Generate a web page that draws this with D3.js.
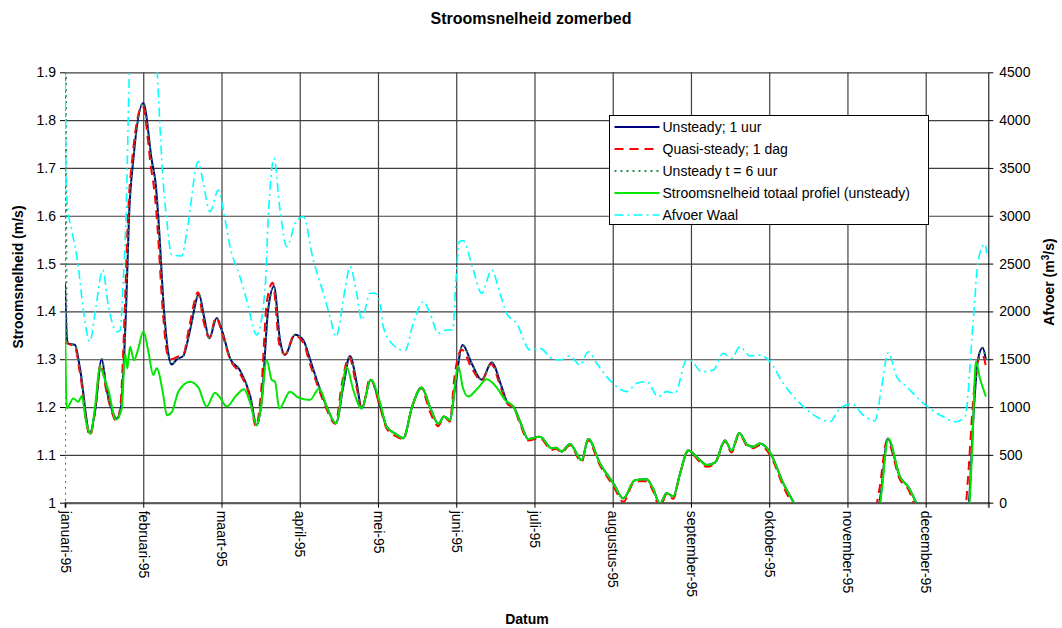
<!DOCTYPE html>
<html>
<head>
<meta charset="utf-8">
<script src="https://cdn.jsdelivr.net/npm/d3@7"></script>
<style>
  body { margin: 0; background: #fff; }
  svg { font-family: "Liberation Sans", Arial, sans-serif; }
</style>
</head>
<body>
<div id="chart"></div>
<script>
// maanden op de x-as (gelijk verdeeld, index = maand)
var maanden = ["januari-95", "februari-95", "maart-95", "april-95", "mei-95", "juni-95",
               "juli-95", "augustus-95", "september-95", "oktober-95", "november-95", "december-95"];
var yTicks = [1, 1.1, 1.2, 1.3, 1.4, 1.5, 1.6, 1.7, 1.8, 1.9];
var afvoerTicks = [0, 500, 1000, 1500, 2000, 2500, 3000, 3500, 4000, 4500];

var legendLabels = ["Unsteady; 1 uur", "Quasi-steady; 1 dag", "Unsteady t = 6 uur",
                    "Stroomsnelheid totaal profiel (unsteady)", "Afvoer Waal"];

// [maand, stroomsnelheid m/s]
var unsteady1uur = [[0,1.46],[0.022,1.35],[0.038,1.333],[0.128,1.33],[0.192,1.28],[0.319,1.145],[0.383,1.19],[0.469,1.30],
  [0.533,1.236],[0.588,1.20],[0.661,1.176],[0.716,1.20],[0.754,1.30],[0.780,1.403],[0.818,1.598],[0.873,1.717],[1.000,1.836],
  [1.108,1.717],[1.163,1.66],[1.192,1.598],[1.265,1.403],[1.320,1.312],[1.364,1.289],[1.431,1.30],[1.512,1.307],[1.597,1.36],
  [1.712,1.436],[1.776,1.39],[1.844,1.344],[1.939,1.386],[2.006,1.36],[2.109,1.302],[2.236,1.277],[2.364,1.225],[2.450,1.162],
  [2.518,1.22],[2.594,1.40],[2.671,1.452],[2.748,1.34],[2.812,1.309],[2.939,1.351],[3.045,1.34],[3.131,1.30],[3.217,1.257],
  [3.344,1.201],[3.463,1.166],[3.553,1.24],[3.642,1.307],[3.728,1.25],[3.792,1.197],[3.907,1.257],[4.026,1.204],[4.111,1.159],
  [4.217,1.145],[4.323,1.135],[4.435,1.20],[4.558,1.241],[4.665,1.20],[4.771,1.165],[4.843,1.18],[4.920,1.173],[4.984,1.24],
  [5.082,1.33],[5.201,1.29],[5.325,1.257],[5.453,1.293],[5.581,1.242],[5.665,1.206],[5.729,1.201],[5.815,1.17],[5.921,1.133],
  [6.070,1.138],[6.220,1.114],[6.275,1.115],[6.348,1.107],[6.454,1.123],[6.603,1.089],[6.688,1.133],[6.837,1.082],[7.007,1.041],
  [7.135,1.009],[7.284,1.047],[7.434,1.049],[7.514,1.03],[7.604,0.998],[7.690,1.02],[7.774,1.013],[7.859,1.06],[7.965,1.109],
  [8.115,1.089],[8.200,1.079],[8.307,1.084],[8.435,1.13],[8.520,1.109],[8.617,1.146],[8.719,1.121],[8.796,1.117],[8.882,1.124],
  [9.010,1.105],[9.179,1.041],[9.329,0.995],[9.457,0.95],[9.776,0.92],[10.160,0.92],[10.364,0.96],[10.428,1.02],[10.514,1.134],
  [10.671,1.054],[10.777,1.033],[10.884,0.998],[10.990,0.96],[11.310,0.93],[11.502,0.95],[11.553,1.0],[11.617,1.2],[11.668,1.30],
  [11.728,1.324],[11.770,1.298]];

var quasiSteady1dag = [[0,1.34],[0.022,1.335],[0.038,1.333],[0.128,1.325],[0.192,1.27],[0.319,1.14],[0.383,1.19],[0.455,1.29],
  [0.533,1.23],[0.588,1.195],[0.661,1.17],[0.706,1.20],[0.740,1.30],[0.767,1.42],[0.805,1.60],[0.860,1.72],[0.990,1.83],
  [1.100,1.70],[1.150,1.64],[1.180,1.58],[1.250,1.40],[1.310,1.31],[1.364,1.30],[1.431,1.305],[1.512,1.31],[1.590,1.37],
  [1.700,1.44],[1.770,1.38],[1.844,1.345],[1.930,1.388],[2.006,1.355],[2.109,1.30],[2.236,1.27],[2.364,1.22],[2.440,1.16],
  [2.505,1.23],[2.580,1.42],[2.655,1.46],[2.740,1.33],[2.812,1.31],[2.930,1.35],[3.045,1.335],[3.131,1.29],[3.217,1.25],
  [3.344,1.195],[3.455,1.165],[3.540,1.25],[3.630,1.305],[3.728,1.24],[3.792,1.195],[3.900,1.26],[4.026,1.20],[4.111,1.155],
  [4.217,1.14],[4.323,1.133],[4.435,1.20],[4.550,1.24],[4.665,1.19],[4.771,1.16],[4.843,1.18],[4.920,1.17],[4.975,1.26],
  [5.070,1.32],[5.201,1.28],[5.325,1.255],[5.445,1.29],[5.581,1.235],[5.665,1.205],[5.729,1.20],[5.815,1.165],[5.921,1.13],
  [6.070,1.135],[6.220,1.11],[6.275,1.113],[6.348,1.105],[6.454,1.12],[6.603,1.085],[6.680,1.13],[6.837,1.078],[7.007,1.035],
  [7.135,1.002],[7.284,1.045],[7.434,1.045],[7.514,1.025],[7.604,0.99],[7.690,1.018],[7.774,1.008],[7.859,1.06],[7.965,1.108],
  [8.115,1.085],[8.200,1.075],[8.307,1.082],[8.435,1.128],[8.520,1.105],[8.617,1.144],[8.719,1.118],[8.796,1.114],[8.882,1.12],
  [9.010,1.10],[9.179,1.035],[9.310,0.99],[9.457,0.94],[9.776,0.91],[10.160,0.91],[10.340,0.97],[10.410,1.03],[10.505,1.13],
  [10.671,1.048],[10.777,1.028],[10.870,0.99],[10.990,0.95],[11.310,0.92],[11.490,0.96],[11.540,1.05],[11.600,1.2],[11.655,1.29],
  [11.720,1.31],[11.770,1.285]];

var unsteady6uur = [[0,0],[0.003,2.3],[0.022,1.35],[0.038,1.333],[0.128,1.33],[0.192,1.28],[0.319,1.145],[0.383,1.19],[0.469,1.30],
  [0.533,1.236],[0.588,1.20],[0.661,1.176],[0.716,1.20],[0.754,1.30],[0.780,1.403],[0.818,1.598],[0.873,1.717],[1.000,1.836],
  [1.108,1.717],[1.163,1.66],[1.192,1.598],[1.265,1.403],[1.320,1.312],[1.364,1.289],[1.431,1.30],[1.512,1.307],[1.597,1.36],
  [1.712,1.436],[1.776,1.39],[1.844,1.344],[1.939,1.386],[2.006,1.36],[2.109,1.302],[2.236,1.277],[2.364,1.225],[2.450,1.162],
  [2.518,1.22],[2.594,1.40],[2.671,1.452],[2.748,1.34],[2.812,1.309],[2.939,1.351],[3.045,1.34],[3.131,1.30],[3.217,1.257],
  [3.344,1.201],[3.463,1.166],[3.553,1.24],[3.642,1.307],[3.728,1.25],[3.792,1.197],[3.907,1.257],[4.026,1.204],[4.111,1.159],
  [4.217,1.145],[4.323,1.135],[4.435,1.20],[4.558,1.241],[4.665,1.20],[4.771,1.165],[4.843,1.18],[4.920,1.173],[4.984,1.24],
  [5.082,1.33],[5.201,1.29],[5.325,1.257],[5.453,1.293],[5.581,1.242],[5.665,1.206],[5.729,1.201],[5.815,1.17],[5.921,1.133],
  [6.070,1.138],[6.220,1.114],[6.275,1.115],[6.348,1.107],[6.454,1.123],[6.603,1.089],[6.688,1.133],[6.837,1.082],[7.007,1.041],
  [7.135,1.009],[7.284,1.047],[7.434,1.049],[7.514,1.03],[7.604,0.998],[7.690,1.02],[7.774,1.013],[7.859,1.06],[7.965,1.109],
  [8.115,1.089],[8.200,1.079],[8.307,1.084],[8.435,1.13],[8.520,1.109],[8.617,1.146],[8.719,1.121],[8.796,1.117],[8.882,1.124],
  [9.010,1.105],[9.179,1.041],[9.329,0.995],[9.457,0.95],[9.776,0.92],[10.160,0.92],[10.364,0.96],[10.428,1.02],[10.514,1.134],
  [10.671,1.054],[10.777,1.033],[10.884,0.998],[10.990,0.96],[11.310,0.93],[11.502,0.95],[11.553,1.0],[11.617,1.2],[11.668,1.30],
  [11.728,1.324],[11.770,1.298]];

var totaalProfiel = [[0,1.40],[0.022,1.197],[0.106,1.218],[0.170,1.211],[0.213,1.223],[0.268,1.17],[0.328,1.144],[0.383,1.20],
  [0.447,1.283],[0.511,1.257],[0.553,1.236],[0.652,1.174],[0.725,1.197],[0.767,1.312],[0.796,1.281],[0.831,1.326],[0.882,1.298],
  [0.933,1.32],[1.001,1.358],[1.061,1.32],[1.128,1.267],[1.172,1.281],[1.256,1.225],[1.300,1.183],[1.367,1.19],[1.448,1.232],
  [1.597,1.253],[1.704,1.241],[1.811,1.201],[1.917,1.23],[1.981,1.22],[2.066,1.201],[2.194,1.225],[2.288,1.237],[2.364,1.21],
  [2.450,1.162],[2.505,1.20],[2.578,1.298],[2.642,1.257],[2.684,1.253],[2.739,1.197],[2.875,1.232],[2.981,1.22],[3.131,1.215],
  [3.250,1.239],[3.344,1.201],[3.463,1.166],[3.600,1.284],[3.684,1.236],[3.792,1.197],[3.907,1.257],[4.026,1.21],[4.111,1.159],
  [4.217,1.145],[4.323,1.135],[4.435,1.20],[4.558,1.241],[4.665,1.20],[4.771,1.165],[4.843,1.18],[4.920,1.173],[5.026,1.286],
  [5.086,1.24],[5.154,1.222],[5.278,1.24],[5.389,1.258],[5.517,1.241],[5.623,1.215],[5.729,1.201],[5.815,1.17],[5.921,1.133],
  [6.070,1.138],[6.220,1.114],[6.275,1.115],[6.348,1.107],[6.454,1.123],[6.603,1.089],[6.688,1.133],[6.837,1.082],[7.007,1.041],
  [7.135,1.009],[7.284,1.047],[7.434,1.049],[7.514,1.03],[7.604,0.998],[7.690,1.02],[7.774,1.013],[7.859,1.06],[7.965,1.109],
  [8.115,1.089],[8.200,1.079],[8.307,1.084],[8.435,1.13],[8.520,1.109],[8.617,1.146],[8.719,1.121],[8.796,1.117],[8.882,1.124],
  [9.010,1.105],[9.179,1.041],[9.329,0.995],[9.457,0.95],[9.776,0.92],[10.160,0.92],[10.390,0.96],[10.441,1.03],[10.521,1.134],
  [10.671,1.054],[10.777,1.033],[10.884,0.998],[10.990,0.96],[11.310,0.93],[11.540,0.96],[11.591,1.10],[11.642,1.295],
  [11.693,1.26],[11.770,1.222]];

// [maand, afvoer m3/s]
var afvoerWaal = [[0,5000],[0.013,3400],[0.026,3150],[0.038,3050],[0.086,2851],[0.170,2468],[0.234,2015],[0.319,1683],
  [0.383,1980],[0.482,2433],[0.553,2067],[0.661,1788],[0.703,1800],[0.745,2329],[0.780,2990],[0.822,4490],[0.869,5200],
  [1.022,5600],[1.150,5000],[1.180,4490],[1.256,3340],[1.300,2956],[1.364,2590],[1.491,2580],[1.555,2817],[1.704,3566],
  [1.767,3340],[1.853,3043],[1.959,3270],[2.023,3061],[2.109,2677],[2.236,2363],[2.322,2120],[2.450,1754],[2.556,2224],
  [2.598,2990],[2.671,3601],[2.748,3061],[2.833,2677],[2.961,2956],[3.045,2990],[3.173,2538],[3.301,2190],[3.387,1945],
  [3.463,1736],[3.578,2224],[3.642,2468],[3.728,2190],[3.792,1910],[3.898,2190],[3.962,2190],[4.026,2085],[4.068,1840],
  [4.196,1649],[4.345,1589],[4.451,1876],[4.579,2102],[4.665,1980],[4.771,1771],[4.878,1806],[4.955,1806],[4.997,2329],
  [5.039,2729],[5.086,2740],[5.218,2433],[5.325,2190],[5.453,2433],[5.559,2190],[5.645,1980],[5.773,1876],[5.942,1597],
  [6.070,1614],[6.220,1510],[6.326,1492],[6.454,1534],[6.581,1440],[6.688,1579],[6.795,1458],[6.923,1318],[7.050,1213],
  [7.178,1161],[7.306,1248],[7.434,1265],[7.582,1108],[7.690,1161],[7.796,1144],[7.945,1492],[7.987,1492],[8.137,1370],
  [8.285,1388],[8.413,1562],[8.520,1510],[8.626,1631],[8.754,1534],[8.882,1544],[9.010,1475],[9.179,1248],[9.393,1039],
  [9.606,899],[9.776,847],[9.904,987],[10.054,1032],[10.202,917],[10.351,857],[10.437,1213],[10.521,1568],[10.629,1318],
  [10.757,1213],[10.969,1039],[11.182,917],[11.395,847],[11.502,899],[11.608,1910],[11.672,2538],[11.757,2705],[11.779,2608]];

var width = 1062, height = 628;
var margin = {top: 72.3, left: 65, right: 1062 - 988.3, bottom: 628 - 502.7};
var plotW = width - margin.left - margin.right,
    plotH = height - margin.top - margin.bottom;

var svg = d3.select("#chart").append("svg")
    .attr("width", width)
    .attr("height", height);

var x = d3.scaleLinear().domain([0, 11.8]).range([0, plotW]);
var yL = d3.scaleLinear().domain([1, 1.9]).range([plotH, 0]);
var yR = d3.scaleLinear().domain([0, 4500]).range([plotH, 0]);

var g = svg.append("g")
    .attr("transform", "translate(" + margin.left + "," + margin.top + ")");

svg.append("defs").append("clipPath").attr("id", "plotclip")
  .append("rect").attr("x", 0).attr("y", 0).attr("width", plotW).attr("height", plotH);

// gridlijnen
g.append("g")
    .attr("class", "grid")
    .call(d3.axisLeft(yL).tickValues(yTicks).tickSize(-plotW).tickFormat(""))
    .call(function(s){ s.select(".domain").remove(); });

g.append("g")
    .attr("class", "grid")
    .attr("transform", "translate(0," + plotH + ")")
    .call(d3.axisBottom(x).tickValues(maanden.map(function(d, i){ return i; }).slice(1)).tickSize(plotH).tickFormat(""))
    .call(function(s){ s.select(".domain").remove(); })
    .selectAll("line").attr("y2", -plotH);

g.selectAll(".grid line").attr("stroke", "#404040").attr("stroke-width", 1.2);

// assen
var leftAxis = g.append("g")
    .call(d3.axisLeft(yL).tickValues(yTicks).tickSize(5).tickPadding(4).tickFormat(d3.format("~g")));
leftAxis.select(".domain").remove();

var bottomAxis = g.append("g")
    .attr("transform", "translate(0," + plotH + ")")
    .call(d3.axisBottom(x).tickValues(maanden.map(function(d, i){ return i; })).tickSize(5)
        .tickFormat(function(d){ return maanden[d]; }));
bottomAxis.select(".domain").attr("stroke", "#555").attr("stroke-width", 2);
bottomAxis.selectAll("text")
    .attr("transform", "rotate(90)")
    .attr("x", 8)
    .attr("y", 0)
    .attr("dy", "0.35em")
    .style("text-anchor", "start");

var rightAxis = g.append("g")
    .attr("transform", "translate(" + plotW + ",0)")
    .call(d3.axisRight(yR).tickValues(afvoerTicks).tickSize(5).tickPadding(6).tickSizeOuter(0)
        .tickFormat(d3.format("d")));

g.selectAll(".tick text").attr("fill", "#000").style("font-size", "14px").style("font-family", "'Liberation Sans', Arial, sans-serif");
leftAxis.selectAll(".tick line").attr("stroke", "#000");
rightAxis.selectAll(".tick line").attr("stroke", "#000");
rightAxis.select(".domain").attr("stroke", "#000");

// lijnen
var lineL = d3.line()
    .x(function(d){ return x(d[0]); })
    .y(function(d){ return yL(d[1]); })
    .curve(d3.curveMonotoneX);

var lineR = d3.line()
    .x(function(d){ return x(d[0]); })
    .y(function(d){ return yR(d[1]); })
    .curve(d3.curveMonotoneX);

var series = [
    {data: unsteady1uur,    line: lineL, color: "#000080", dash: null,          w: 2},
    {data: quasiSteady1dag, line: lineL, color: "#ff0000", dash: "9,6",         w: 2},
    {data: unsteady6uur,    line: lineL, color: "#2e8b57", dash: "2,4",         w: 2},
    {data: totaalProfiel,   line: lineL, color: "#00e600", dash: null,          w: 2},
    {data: afvoerWaal,      line: lineR, color: "#00ffff", dash: "9,4,2,4",     w: 1.6}
];

var lines = g.append("g").attr("clip-path", "url(#plotclip)");
series.forEach(function(s){
    lines.append("path")
        .attr("d", s.line(s.data))
        .attr("fill", "none")
        .attr("stroke", s.color)
        .attr("stroke-width", s.w)
        .attr("stroke-dasharray", s.dash);
});

// titels
svg.append("text")
    .attr("x", 531).attr("y", 24)
    .attr("text-anchor", "middle")
    .style("font-size", "16px").style("font-weight", "bold")
    .text("Stroomsnelheid zomerbed");

svg.append("text")
    .attr("text-anchor", "middle")
    .attr("transform", "translate(23,277)rotate(-90)")
    .style("font-size", "14px").style("font-weight", "bold")
    .text("Stroomsnelheid (m/s)");

var rl = svg.append("text")
    .attr("text-anchor", "middle")
    .attr("transform", "translate(1054,282)rotate(-90)")
    .style("font-size", "14px").style("font-weight", "bold");
rl.append("tspan").text("Afvoer (m");
rl.append("tspan").attr("dy", -5).style("font-size", "10px").text("3");
rl.append("tspan").attr("dy", 5).text("/s)");

svg.append("text")
    .attr("x", 527).attr("y", 624)
    .attr("text-anchor", "middle")
    .style("font-size", "14px").style("font-weight", "bold")
    .text("Datum");

// legenda
var legend = svg.append("g").attr("transform", "translate(609.5,115.5)");
legend.append("rect")
    .attr("width", 319).attr("height", 109)
    .attr("fill", "#fff").attr("stroke", "#000").attr("stroke-width", 1);

legendLabels.forEach(function(lab, i){
    var s = series[i];
    var yy = 11.5 + i * 22;
    legend.append("line")
        .attr("x1", 5).attr("x2", 50).attr("y1", yy).attr("y2", yy)
        .attr("stroke", s.color).attr("stroke-width", s.w)
        .attr("stroke-dasharray", s.dash);
    legend.append("text")
        .attr("x", 53).attr("y", yy).attr("dy", "0.35em")
        .style("font-size", "14px")
        .text(lab);
});
</script>
</body>
</html>
